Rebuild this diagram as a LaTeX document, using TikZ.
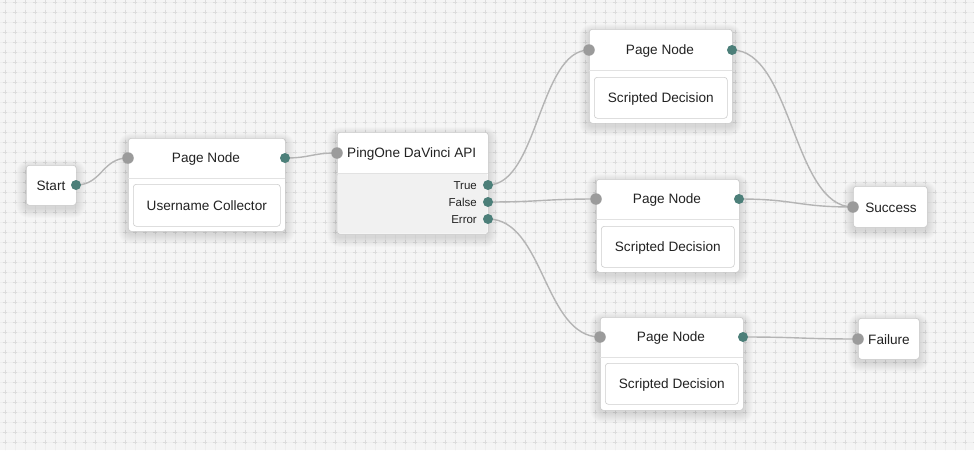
\documentclass[tikz,border=0pt]{standalone}
\usepackage{fontspec}
\setmainfont{Liberation Sans}
\definecolor{bgc}{HTML}{F5F5F5}
\definecolor{gridc}{HTML}{EEEEEE}
\definecolor{crossc}{HTML}{DCDCDC}
\definecolor{cardb}{HTML}{C9C9C9}
\definecolor{sepc}{HTML}{E2E2E2}
\definecolor{innerb}{HTML}{CDCDCD}
\definecolor{bodyc}{HTML}{F1F1F1}
\definecolor{teal}{HTML}{4C7F79}
\definecolor{grayd}{HTML}{9B9B9B}
\definecolor{wirec}{HTML}{B4B4B4}
\definecolor{txt}{HTML}{222222}
\pgfdeclarelayer{bg}
\pgfdeclarelayer{shad}
\pgfdeclarelayer{wires}
\pgfsetlayers{bg,shad,wires,main}
\newcommand{\softshadow}[4]{%
  \begin{pgfonlayer}{shad}
  \foreach \s in {1,2,...,10}{%
    \fill[black,opacity=0.011,rounded corners=3pt+\s pt]
      (#1-\s*1.0,#2-\s*0.8+3) rectangle (#3+\s*1.0,#4+\s*1.0+3);}
  \end{pgfonlayer}}
\begin{document}
\begin{tikzpicture}[x=1pt,y=-1pt,
  card/.style={draw=cardb,fill=white,rounded corners=3pt,line width=0.6pt,inner sep=0pt,anchor=north west},
  inbox/.style={draw=innerb,fill=white,rounded corners=3pt,line width=0.6pt,inner sep=0pt,anchor=north west},
  lab/.style={text=txt,font=\fontsize{13.6}{16}\selectfont,inner sep=0pt,yshift=-0.8pt},
  slab/.style={text=txt,font=\fontsize{11.5}{13}\selectfont,inner sep=0pt,yshift=-0.5pt},
  indot/.style={circle,fill=grayd,minimum size=11.5pt,inner sep=0pt},
  outdot/.style={circle,fill=teal,minimum size=10pt,inner sep=0pt},
  wire/.style={draw=wirec,line width=1.4pt},
  sepline/.style={draw=sepc,line width=0.7pt}]
\useasboundingbox (0,0) rectangle (974,450);
\begin{pgfonlayer}{bg}
\fill[bgc] (0,0) rectangle (974,450);
\foreach \x in {5,15,...,975} \draw[gridc,line width=0.5pt] (\x,0) -- (\x,450);
\foreach \y in {2,12,...,452} \draw[gridc,line width=0.5pt] (0,\y) -- (974,\y);
\foreach \x in {5,15,...,975} \draw[crossc,line width=0.7pt,dash pattern=on 4pt off 6pt] (\x,0) -- (\x,450);
\foreach \y in {2,12,...,452} \draw[crossc,line width=0.7pt,dash pattern=on 4pt off 6pt] (3,\y) -- (974,\y);
\end{pgfonlayer}

% Start
\softshadow{26}{165}{76}{205}
\node[card,minimum width=50pt,minimum height=40pt] (start) at (26,165) {};
\node[lab] (startl) at (51,185) {Start};
\node[outdot] (starto) at (76,185) {};

% Page node 1
\softshadow{128}{138}{285}{231}
\node[card,minimum width=157pt,minimum height=93pt] (pn1) at (128,138) {};
\draw[sepline] (128.3,178) -- (284.7,178);
\node[lab] (pn1t) at (206,158) {Page Node};
\node[inbox,minimum width=147pt,minimum height=42pt] (pn1b) at (133,184) {};
\node[lab] at (pn1b.center) {Username Collector};
\node[indot] (pn1i) at (128,158) {};
\node[outdot] (pn1o) at (285,158) {};

% PingOne
\softshadow{337}{132}{488}{234}
\node[card,minimum width=151pt,minimum height=102pt] (ping) at (337,132) {};
\fill[bodyc,rounded corners=3pt] (337.3,173) -- (337.3,233.7) -- (487.7,233.7) -- (487.7,173) -- cycle;
\draw[sepline] (337.3,173) -- (487.7,173);
\node[lab,anchor=west] (pingt) at (347,153) {PingOne DaVinci API};
\node[indot] (pingi) at (337,153) {};
\node[slab,anchor=east] (truel) at (477,185) {True};
\node[slab,anchor=east] (falsel) at (477,202) {False};
\node[slab,anchor=east] (errorl) at (477,219) {Error};
\node[outdot] (pingtr) at (488,185) {};
\node[outdot] (pingfa) at (488,202) {};
\node[outdot] (pinger) at (488,219) {};

% Page node 2
\softshadow{589}{29}{732}{123}
\node[card,minimum width=143pt,minimum height=94pt] (pn2) at (589,29) {};
\draw[sepline] (589.3,70) -- (731.7,70);
\node[lab] (pn2t) at (660,50) {Page Node};
\node[inbox,minimum width=133pt,minimum height=41pt] (pn2b) at (594,77) {};
\node[lab] at (pn2b.center) {Scripted Decision};
\node[indot] (pn2i) at (589,50) {};
\node[outdot] (pn2o) at (732,50) {};

% Page node 3
\softshadow{596}{179}{739}{272}
\node[card,minimum width=143pt,minimum height=93pt] (pn3) at (596,179) {};
\draw[sepline] (596.3,219) -- (738.7,219);
\node[lab] (pn3t) at (667,199) {Page Node};
\node[inbox,minimum width=133pt,minimum height=41pt] (pn3b) at (601,226) {};
\node[lab] at (pn3b.center) {Scripted Decision};
\node[indot] (pn3i) at (596,199) {};
\node[outdot] (pn3o) at (739,199) {};

% Page node 4
\softshadow{600}{317}{743}{410}
\node[card,minimum width=143pt,minimum height=93pt] (pn4) at (600,317) {};
\draw[sepline] (600.3,357) -- (742.7,357);
\node[lab] (pn4t) at (671,337) {Page Node};
\node[inbox,minimum width=133pt,minimum height=41pt] (pn4b) at (605,363) {};
\node[lab] at (pn4b.center) {Scripted Decision};
\node[indot] (pn4i) at (600,337) {};
\node[outdot] (pn4o) at (743,337) {};

% Success
\softshadow{853}{186}{927}{227}
\node[card,minimum width=74pt,minimum height=41pt] (succ) at (853,186) {};
\node[lab] (succl) at (891,207) {Success};
\node[indot] (succi) at (853,207) {};

% Failure
\softshadow{858}{318}{919}{359}
\node[card,minimum width=61pt,minimum height=41pt] (fail) at (858,318) {};
\node[lab] (faill) at (889,339) {Failure};
\node[indot] (faili) at (858,339) {};

\begin{pgfonlayer}{wires}
\draw[wire] (starto.center) .. controls +(26,0) and +(-26,0) .. (pn1i.center);
\draw[wire] (pn1o.center) .. controls +(26,0) and +(-26,0) .. (pingi.center);
\draw[wire] (pingtr.center) .. controls +(50,0) and +(-50,0) .. (pn2i.center);
\draw[wire] (pingfa.center) .. controls +(54,0) and +(-54,0) .. (pn3i.center);
\draw[wire] (pinger.center) .. controls +(56,0) and +(-56,0) .. (pn4i.center);
\draw[wire] (pn2o.center) .. controls +(60,0) and +(-60,0) .. (succi.center);
\draw[wire] (pn3o.center) .. controls +(57,0) and +(-57,0) .. (succi.center);
\draw[wire] (pn4o.center) .. controls +(57,0) and +(-57,0) .. (faili.center);
\end{pgfonlayer}
\end{tikzpicture}
\end{document}
